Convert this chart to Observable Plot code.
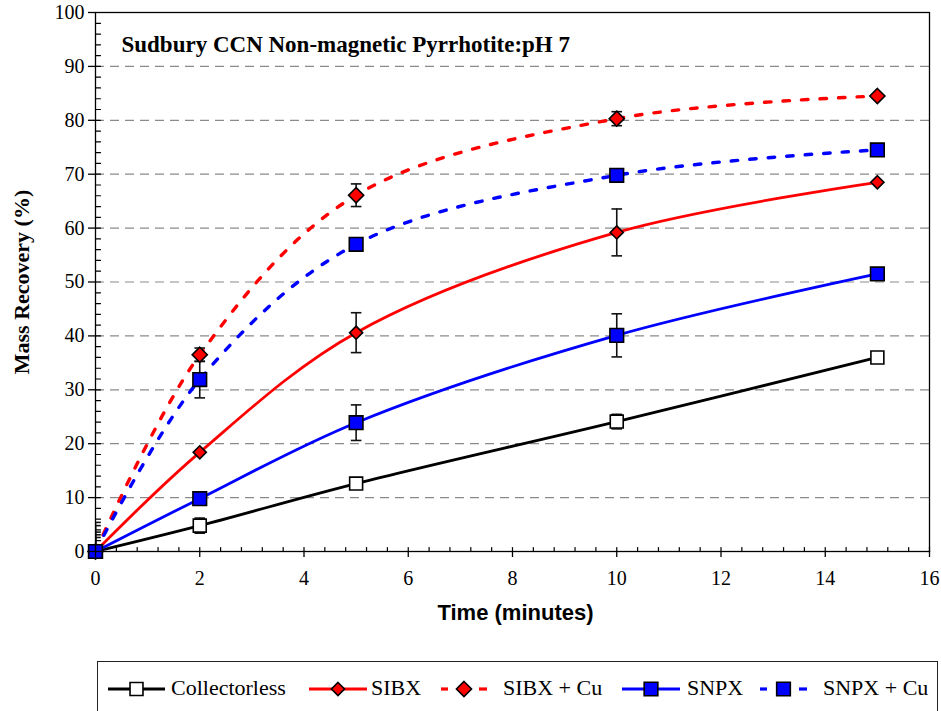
<!DOCTYPE html>
<html><head><meta charset="utf-8">
<script src="https://cdn.jsdelivr.net/npm/d3@7"></script>
<script src="https://cdn.jsdelivr.net/npm/@observablehq/plot@0.6"></script>
<style>
body{margin:0;background:#fff;}
#wrap{position:relative;width:941px;height:711px;overflow:hidden;background:#fff;}
#legend{position:absolute;left:97px;top:661px;width:841px;height:70px;border:1px solid #222;box-sizing:border-box;font-family:"Liberation Serif","Times New Roman",serif;font-size:22px;color:#000;}
.sw{position:absolute;top:17px;}
.lt{position:absolute;top:13px;line-height:26px;white-space:nowrap;}
</style></head><body>
<div id="wrap"><div id="chart"></div><div id="legend"></div></div>
<script>
// ---- data ----
const times = [0, 2, 5, 10, 15];
const seriesNames = ["Collectorless", "SIBX", "SIBX + Cu", "SNPX", "SNPX + Cu"];
const collectorless = [0, 4.8, 12.6, 24.1, 36.0];
const sibx = [0, 18.4, 40.6, 59.2, 68.5];
const sibxCu = [0, 36.5, 66.1, 80.3, 84.5];
const snpx = [0, 9.8, 23.9, 40.1, 51.5];
const snpxCu = [0, 31.9, 57.0, 69.8, 74.5];
// error half-widths (null = none visible)
const collectorlessErr = [2.6, 1.4, null, 1.35, null];
const sibxErr = [3.1, null, 3.7, 4.35, null];
const sibxCuErr = [4.8, 1.25, 2.1, 1.3, null];
const snpxErr = [3.6, null, 3.3, 4.0, null];
const snpxCuErr = [5.4, 3.4, null, null, null];
const yMajor = [0, 10, 20, 30, 40, 50, 60, 70, 80, 90, 100];
const yMinor = d3.range(0, 100.01, 2);
const xMajor = [0, 2, 4, 6, 8, 10, 12, 14, 16];
const xMinor = d3.range(0, 16.01, 0.4).map(v => +v.toFixed(1));
const gridTicks = [10, 20, 30, 40, 50, 60, 70, 80, 90];
const chartTitle = "Sudbury CCN Non-magnetic Pyrrhotite:pH 7";
const xTitle = "Time (minutes)";
const yTitle = "Mass Recovery (%)";

// ---- styles ----
const styles = [
  {color: "#000000", dash: null, symbol: "square", fill: "#ffffff", r: 7.3},
  {color: "#ff0000", dash: null, symbol: "diamond2", fill: "#ff0000", r: 5.9},
  {color: "#ff0000", dash: "6.5,12", symbol: "diamond2", fill: "#ff0000", r: 6.8},
  {color: "#0000ff", dash: null, symbol: "square", fill: "#0000ff", r: 7.7},
  {color: "#0000ff", dash: "6.5,12", symbol: "square", fill: "#0000ff", r: 7.7}
];
const values = [collectorless, sibx, sibxCu, snpx, snpxCu];
const errs = [collectorlessErr, sibxErr, sibxCuErr, snpxErr, snpxCuErr];

const serif = "Liberation Serif, Times New Roman, serif";
const capSymbol = {draw(ctx) { ctx.moveTo(-5.3, 0); ctx.lineTo(5.3, 0); }};
const tickShape = {draw(ctx, l) { ctx.moveTo(0, 0); ctx.lineTo(0, -l); }};

const lineMarks = [], dotMarks = [], errRows = [], capRows = [];
values.forEach((vals, i) => {
  const rows = times.map((t, j) => ({t, v: vals[j]}));
  const s = styles[i];
  lineMarks.push(Plot.line(rows, {x: "t", y: "v", stroke: s.color, strokeWidth: s.dash ? 3.4 : 2.8,
    strokeDasharray: s.dash ?? undefined, curve: "catmull-rom"}));
  dotMarks.push(Plot.dot(rows, {x: "t", y: "v", symbol: s.symbol, r: s.r, fill: s.fill,
    stroke: "#000", strokeWidth: 1.6}));
  times.forEach((t, j) => {
    const e = errs[i][j];
    if (e != null) {
      errRows.push({t, lo: vals[j] - e, hi: vals[j] + e});
      capRows.push({t, y: vals[j] - e}, {t, y: vals[j] + e});
    }
  });
});

const chart = Plot.plot({
  width: 941, height: 655,
  marginLeft: 95, marginRight: 12, marginTop: 12, marginBottom: 104,
  style: {fontFamily: serif, fontSize: "20px", background: "#fff", color: "#000"},
  x: {domain: [0, 16]},
  y: {domain: [0, 100]},
  marks: [
    Plot.gridY(gridTicks, {stroke: "#8a8a8a", strokeOpacity: 1, strokeWidth: 1.2, strokeDasharray: "9,6"}),
    ...lineMarks,
    Plot.ruleX(errRows, {x: "t", y1: "lo", y2: "hi", stroke: "#111", strokeWidth: 1.6, clip: true}),
    Plot.dot(capRows, {x: "t", y: "y", symbol: capSymbol, r: 5, fill: "none", stroke: "#111", strokeWidth: 1.6, clip: true}),
    ...dotMarks,
    Plot.frame({stroke: "#000", strokeWidth: 1.3}),
    Plot.axisY(yMajor, {tickSize: 7, tickPadding: 4, label: null, fontSize: 20, fontFamily: serif, strokeWidth: 1.3}),
    Plot.vector(yMinor, {x: () => 0, y: d => d, length: 5, rotate: 90, anchor: "start", shape: tickShape, stroke: "#000", strokeWidth: 1.2}),
    Plot.axisX(xMajor, {tickSize: 6, tickPadding: 13, label: null, fontSize: 20, fontFamily: serif, strokeWidth: 1.3}),
    Plot.vector(xMinor, {x: d => d, y: () => 0, length: 4, rotate: 0, anchor: "start", shape: tickShape, stroke: "#000", strokeWidth: 1.2}),
    Plot.text([chartTitle], {frameAnchor: "top-left", dx: 26, dy: 23, textAnchor: "start", fontWeight: "bold", fontSize: 23, fontFamily: serif}),
    Plot.text([xTitle], {frameAnchor: "bottom", dx: 3, dy: 68, fontWeight: "bold", fontSize: 22, fontFamily: "Liberation Sans, Arial, sans-serif"}),
    Plot.text([yTitle], {frameAnchor: "left", dx: -74, rotate: -90, textAnchor: "middle", fontWeight: "bold", fontSize: 22, fontFamily: serif})
  ]
});
document.getElementById("chart").appendChild(chart);

// ---- legend ----
const legend = document.getElementById("legend");
const legendPos = [
  {sw: 10, w: 57, tx: 73},
  {sw: 211, w: 58, tx: 273},
  {sw: 343, w: 46, tx: 405},
  {sw: 524, w: 58, tx: 589},
  {sw: 662, w: 47, tx: 725}
];
const ns = "http://www.w3.org/2000/svg";
seriesNames.forEach((name, i) => {
  const s = styles[i], p = legendPos[i];
  const svg = document.createElementNS(ns, "svg");
  svg.setAttribute("width", p.w); svg.setAttribute("height", 20);
  svg.setAttribute("class", "sw"); svg.style.left = p.sw + "px";
  const mid = p.w / 2;
  const segs = s.dash ? [[0, 7], [p.w - 8, p.w]] : [[0, p.w]];
  segs.forEach(([a, b]) => {
    const l = document.createElementNS(ns, "line");
    l.setAttribute("x1", a); l.setAttribute("x2", b); l.setAttribute("y1", 10); l.setAttribute("y2", 10);
    l.setAttribute("stroke", s.color); l.setAttribute("stroke-width", 3.2);
    svg.appendChild(l);
  });
  const path = document.createElementNS(ns, "path");
  const sym = s.symbol === "square" ? d3.symbolSquare : d3.symbolDiamond2;
  path.setAttribute("d", d3.symbol(sym, s.r * s.r * Math.PI)());
  path.setAttribute("transform", `translate(${mid},10)`);
  path.setAttribute("fill", s.fill); path.setAttribute("stroke", "#000"); path.setAttribute("stroke-width", 1.6);
  svg.appendChild(path);
  legend.appendChild(svg);
  const t = document.createElement("div");
  t.className = "lt"; t.style.left = p.tx + "px"; t.textContent = name;
  legend.appendChild(t);
});
</script>
</body></html>
